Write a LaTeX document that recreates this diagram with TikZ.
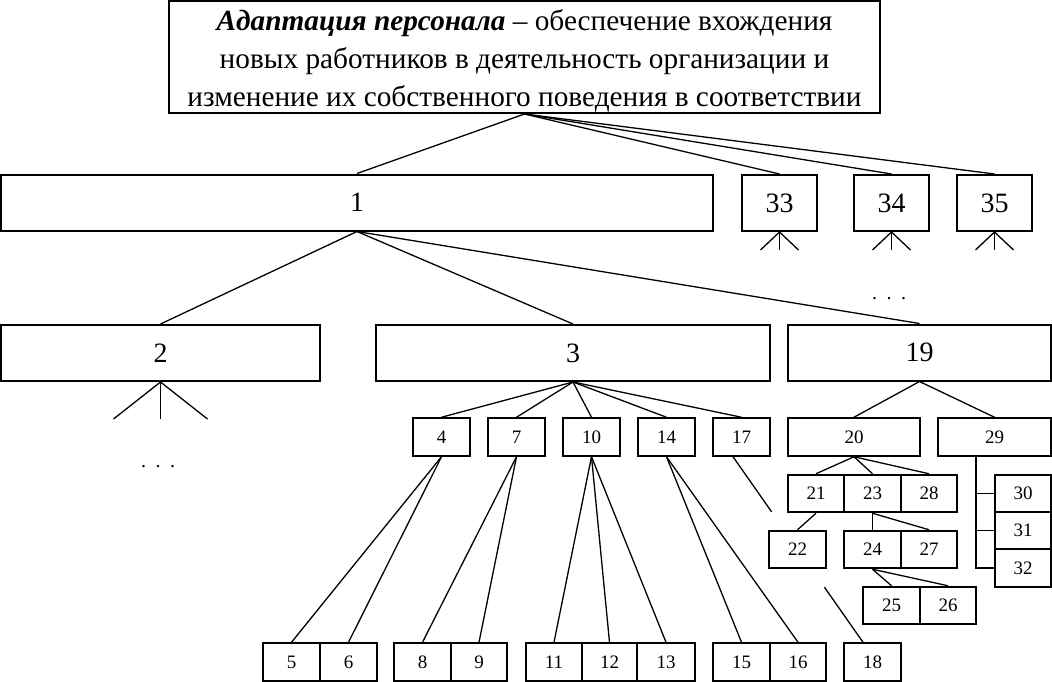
\documentclass[tikz,border=0pt]{standalone}
\usepackage{fontspec}
\setmainfont{Liberation Serif}
\usetikzlibrary{calc}
\begin{document}
\begin{tikzpicture}[x=1pt,y=-1pt,
  box/.style={draw, line width=2pt, inner sep=0pt, fill=white},
  sbox/.style={box, minimum height=37.5pt, font=\fontsize{19}{23}\selectfont},
  bbox/.style={box, minimum height=56pt, font=\fontsize{28}{32}\selectfont},
  link/.style={line width=1.3pt},
  dotsnode/.style={inner sep=0pt, anchor=base, font=\fontsize{20}{24}\selectfont}]
\useasboundingbox (0,0) rectangle (1052,682);
% top
\node[box, minimum width=711pt, minimum height=112pt] (top) at (524.5,57) {};
\node[inner sep=0pt, align=center, font=\fontsize{29.3}{38}\selectfont] (toptext) at (524.5,61)
  {\textbf{\textit{Адаптация персонала}} – обеспечение вхождения\\
   новых работников в деятельность организации и\\
   изменение их собственного поведения в соответствии};
% second row
\node[bbox, minimum width=712pt] (n1) at (357,202.5) {1};
\node[bbox, minimum width=75pt] (n33) at (779.5,203) {33};
\node[bbox, minimum width=75pt] (n34) at (891.5,203) {34};
\node[bbox, minimum width=75pt] (n35) at (994.5,203) {35};
% third row
\node[bbox, minimum width=319pt] (n2) at (160.5,353) {2};
\node[bbox, minimum width=394pt] (n3) at (573,353) {3};
\node[bbox, minimum width=263pt] (n19) at (919.5,352.5) {19};
% fourth row
\node[sbox, minimum width=57pt] (n4) at (441.5,437) {4};
\node[sbox, minimum width=57pt] (n7) at (516.5,437) {7};
\node[sbox, minimum width=57pt] (n10) at (591.5,437) {10};
\node[sbox, minimum width=57pt] (n14) at (666.5,437) {14};
\node[sbox, minimum width=57pt] (n17) at (741.5,437) {17};
\node[sbox, minimum width=132pt] (n20) at (854,437) {20};
\node[sbox, minimum width=113pt] (n29) at (994.5,437) {29};
% under 20 / 29
\node[sbox, minimum width=56pt] (n21) at (816,493.5) {21};
\node[sbox, minimum width=57pt] (n23) at (872.5,493.5) {23};
\node[sbox, minimum width=56pt] (n28) at (929,493.5) {28};
\node[sbox, minimum width=56pt] (n30) at (1023,493.5) {30};
\node[sbox, minimum width=56pt] (n31) at (1023,530.5) {31};
\node[sbox, minimum width=56pt] (n32) at (1023,568) {32};
\node[sbox, minimum width=57pt] (n22) at (797.5,549.5) {22};
\node[sbox, minimum width=57pt] (n24) at (872.5,549.5) {24};
\node[sbox, minimum width=56pt] (n27) at (929,549.5) {27};
\node[sbox, minimum width=57pt] (n25) at (891.5,605.5) {25};
\node[sbox, minimum width=56pt] (n26) at (948,605.5) {26};
% bottom row
\node[sbox, minimum width=57pt] (n5) at (291.5,662) {5};
\node[sbox, minimum width=57pt] (n6) at (348.5,662) {6};
\node[sbox, minimum width=57pt] (n8) at (422.5,662) {8};
\node[sbox, minimum width=56pt] (n9) at (479,662) {9};
\node[sbox, minimum width=56pt] (n11) at (554,662) {11};
\node[sbox, minimum width=55pt] (n12) at (609.5,662) {12};
\node[sbox, minimum width=58pt] (n13) at (666,662) {13};
\node[sbox, minimum width=57pt] (n15) at (741.5,662) {15};
\node[sbox, minimum width=56pt] (n16) at (798,662) {16};
\node[sbox, minimum width=57pt] (n18) at (872.5,662) {18};
% dots
\node[dotsnode] (d1) at (889,299) {.\hspace{9.5pt}.\hspace{9.5pt}.};
\node[dotsnode] (d2) at (158,467) {.\hspace{9.5pt}.\hspace{9.5pt}.};
% connectors
\foreach \c in {n1,n33,n34,n35} \draw[link] (top.south) -- (\c.north);
\foreach \c in {n2,n3,n19} \draw[link] (n1.south) -- (\c.north);
\foreach \c in {n4,n7,n10,n14,n17} \draw[link] (n3.south) -- (\c.north);
\foreach \c in {n20,n29} \draw[link] (n19.south) -- (\c.north);
\foreach \c in {n5,n6} \draw[link] (n4.south) -- (\c.north);
\foreach \c in {n8,n9} \draw[link] (n7.south) -- (\c.north);
\foreach \c in {n11,n12,n13} \draw[link] (n10.south) -- (\c.north);
\foreach \c in {n15,n16} \draw[link] (n14.south) -- (\c.north);
\foreach \c in {n21,n23,n28} \draw[link] (n20.south) -- (\c.north);
\draw[link] (n21.south) -- (n22.north);
\foreach \c in {n24,n27} \draw[link] (n23.south) -- (\c.north);
\foreach \c in {n25,n26} \draw[link] (n24.south) -- (\c.north);
% 17 -> 18, interrupted
\coordinate (s17) at ([xshift=-8.5pt]n17.south);
\coordinate (e18) at ([xshift=-9.5pt]n18.north);
\draw[link] (s17) -- ($(s17)!0.297!(e18)$);
\draw[link] ($(s17)!0.703!(e18)$) -- (e18);
% 29 bracket
\coordinate (br) at ([xshift=-18.5pt]n29.south);
\draw[link] (br) |- (n32.west);
\draw[link] (n30.west) -- (n30.west -| br);
\draw[link] (n31.west) -- (n31.west -| br);
% stubs
\foreach \c in {n33,n34,n35} {
  \draw[link] (\c.south) -- ++(0,18);
  \draw[link] (\c.south) -- ++(-19,18);
  \draw[link] (\c.south) -- ++(19,18);
}
\draw[link] (n2.south) -- ++(0,37);
\draw[link] (n2.south) -- ++(-47,37);
\draw[link] (n2.south) -- ++(47,37);
\end{tikzpicture}
\end{document}
